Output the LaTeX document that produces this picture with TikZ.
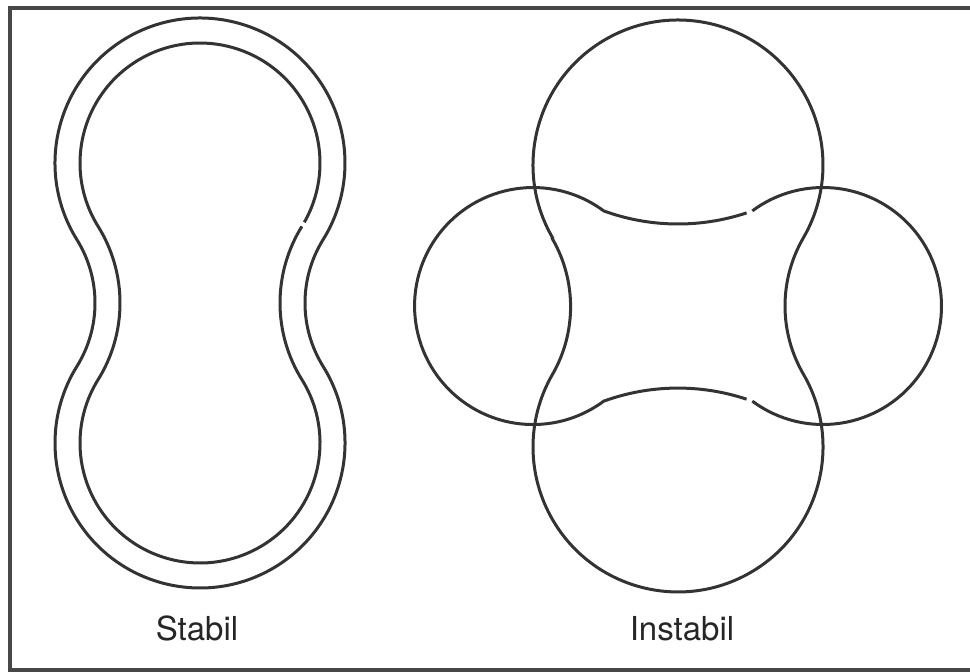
\documentclass[tikz,border=0pt]{standalone}
\usepackage{fontspec}
\setmainfont{TeX Gyre Heros}
\usetikzlibrary{calc}

\begin{document}
\begin{tikzpicture}[x=1pt,y=-1pt]
\tikzstyle{curve}=[line width=3pt, black!80]
\tikzstyle{frame}=[line width=3.2pt, black!72]
\tikzstyle{caption}=[font=\fontsize{33}{38}\selectfont, text=black!85, anchor=base, inner sep=0pt]
\useasboundingbox (0,0) rectangle (970,672);
% frame, right edge runs off the page
\draw[frame] (980,8) -- (10,8) -- (10,670) -- (980,670);

% stabil: two lobes joined by a waist, drawn twice
\coordinate (up) at (200,163);
\coordinate (lo) at (200,443);
\coordinate (wl) at (-25,303);
\coordinate (wr) at (425,303);
\draw[curve] ($(up)+(148.11:145)$) arc[start angle=148.11, end angle=391.89, radius=145]
  arc[start angle=211.89, end angle=148.11, radius=120]
  arc[start angle=-31.89, end angle=211.89, radius=145]
  arc[start angle=31.89, end angle=-31.89, radius=120] -- cycle;
\draw[curve] ($(wr)+(211.89:145)$) arc[start angle=211.89, end angle=148.11, radius=145]
  arc[start angle=-31.89, end angle=211.89, radius=120]
  arc[start angle=31.89, end angle=-31.89, radius=145]
  arc[start angle=148.11, end angle=389.6, radius=120];

% instabil: four bubbles round a pinched square
\coordinate (ct) at (678,165);
\coordinate (cb) at (678,447);
\coordinate (cl) at (533,306);
\coordinate (cr) at (823,306);
\coordinate (sl) at (435.4,306);
\coordinate (sr) at (920.6,306);
\coordinate (st) at (678,6.8);
\coordinate (sb) at (678,605.2);
\draw[curve] ($(ct)+(149.84:145)$) arc[start angle=149.84, end angle=390.16, radius=145]
  arc[start angle=210.16, end angle=149.84, radius=135.6]
  arc[start angle=-30.16, end angle=209.84, radius=145]
  arc[start angle=30.16, end angle=-30.16, radius=135.6] -- cycle;
\draw[curve] ($(st)+(71.6:217.2)$) arc[start angle=71.6, end angle=110, radius=217.2]
  arc[start angle=-53.4, end angle=-306.6, radius=118.5]
  arc[start angle=-110, end angle=-71.6, radius=217.2];
\draw[curve] ($(cr)+(126.6:118.5)$) arc[start angle=126.6, end angle=-126.6, radius=118.5];

\node[caption] (stabil) at (197,640) {Stabil};
\node[caption] (instabil) at (682,640) {Instabil};
\end{tikzpicture}
\end{document}
